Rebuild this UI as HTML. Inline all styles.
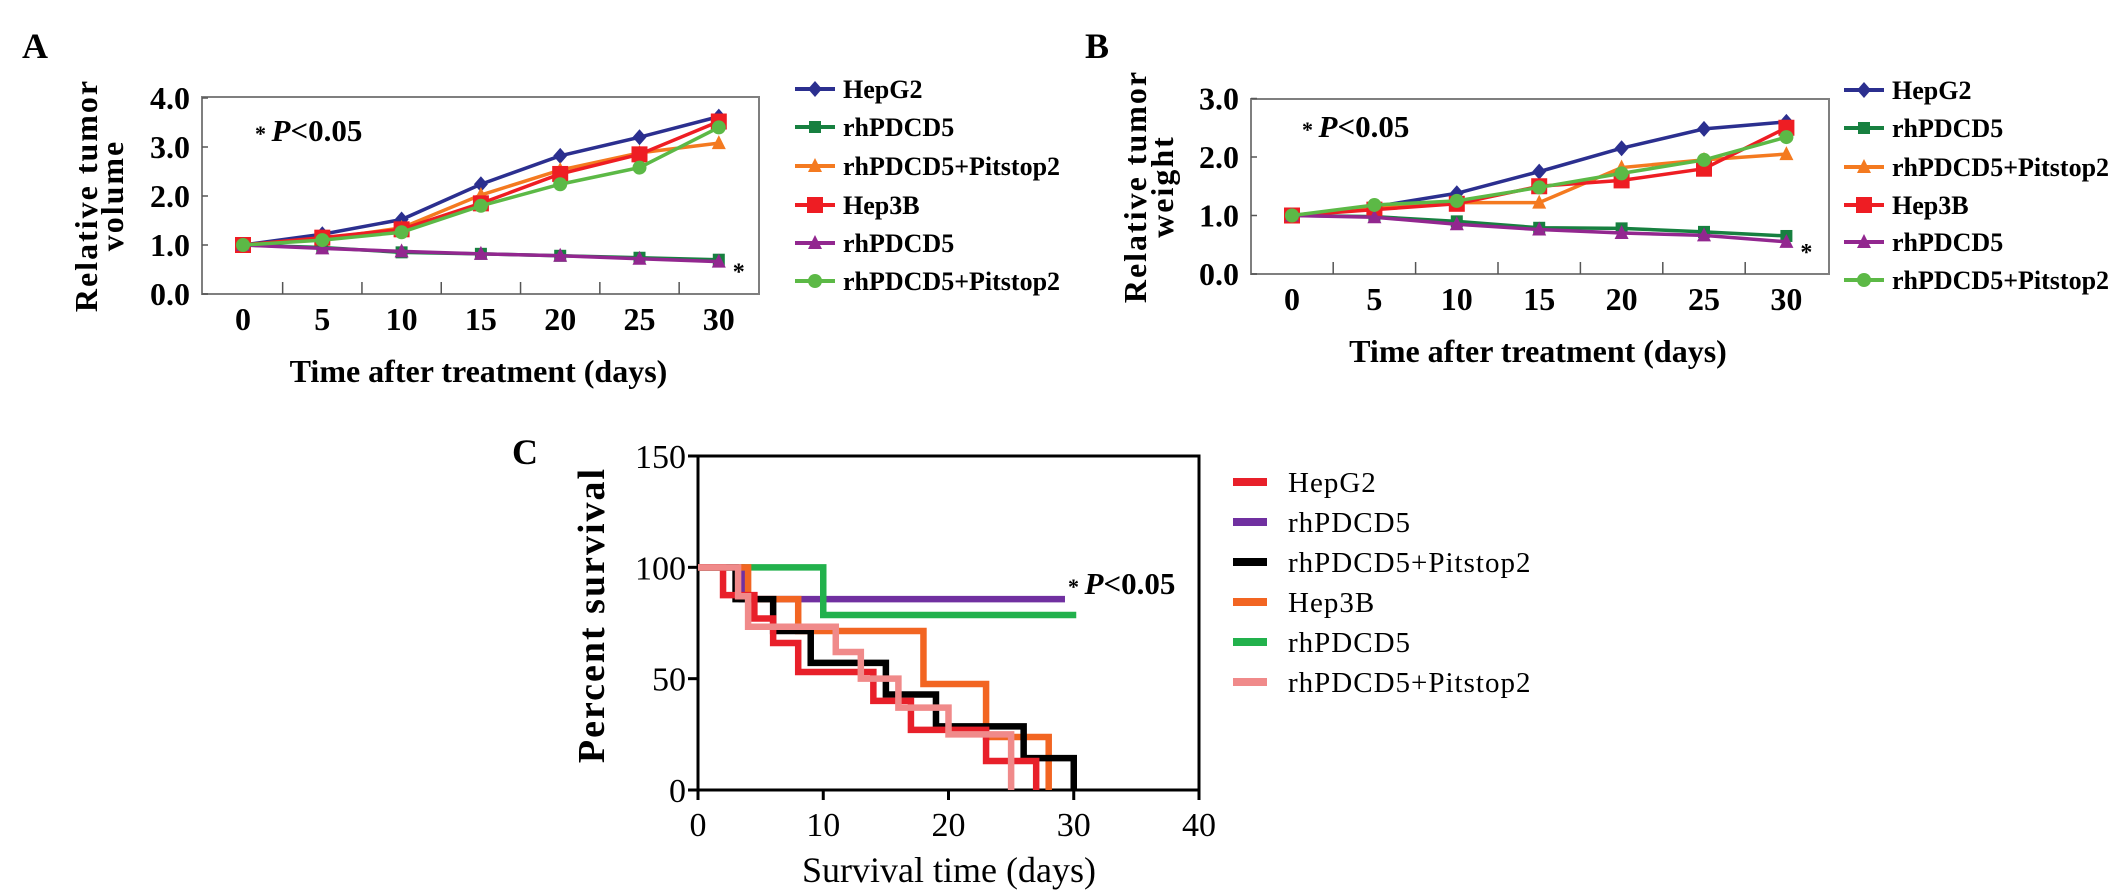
<!DOCTYPE html>
<html><head><meta charset="utf-8"><style>
html,body{margin:0;padding:0;background:#fff;}
svg{display:block;}
text{font-family:"Liberation Serif",serif;}
</style></head><body>
<svg id="fig" width="2126" height="893" viewBox="0 0 2126 893" xmlns="http://www.w3.org/2000/svg">
<rect width="2126" height="893" fill="#fff"/>
<g id="panelA"></g>
<g id="panelB"></g>
<g id="panelC"></g>
</svg>
<script>
// ---- Panel A / B data ----
const days = [0, 5, 10, 15, 20, 25, 30];
const seriesNames = ["HepG2", "rhPDCD5", "rhPDCD5+Pitstop2", "Hep3B", "rhPDCD5", "rhPDCD5+Pitstop2"];
const aHepG2 = [1.0, 1.22, 1.52, 2.24, 2.82, 3.2, 3.62];
const aRh1 = [1.0, 0.95, 0.85, 0.82, 0.78, 0.74, 0.7];
const aPit1 = [1.0, 1.12, 1.35, 2.02, 2.53, 2.88, 3.08];
const aHep3B = [1.0, 1.15, 1.32, 1.85, 2.45, 2.85, 3.52];
const aRh2 = [1.0, 0.93, 0.87, 0.82, 0.78, 0.72, 0.66];
const aPit2 = [1.0, 1.1, 1.26, 1.8, 2.24, 2.58, 3.4];
const bHepG2 = [1.0, 1.15, 1.38, 1.75, 2.15, 2.48, 2.6];
const bRh1 = [1.0, 0.98, 0.9, 0.79, 0.78, 0.72, 0.65];
const bPit1 = [1.0, 1.12, 1.22, 1.22, 1.82, 1.95, 2.05];
const bHep3B = [1.0, 1.1, 1.2, 1.5, 1.6, 1.8, 2.5];
const bRh2 = [1.0, 0.97, 0.85, 0.76, 0.7, 0.66, 0.55];
const bPit2 = [1.0, 1.18, 1.25, 1.48, 1.72, 1.95, 2.34];
const aTicks = ["0.0", "1.0", "2.0", "3.0", "4.0"];
const bTicks = ["0.0", "1.0", "2.0", "3.0"];
const dayLabels = ["0", "5", "10", "15", "20", "25", "30"];

// ---- Panel C data (Kaplan-Meier steps) ----
const cHepG2T = [0, 2, 4.5, 6, 8, 14, 17, 23, 27];
const cHepG2V = [100, 87.5, 77, 66, 53, 40, 27, 13, 0];
const cRh1T = [0, 3.5, 29.3];
const cRh1V = [100, 85.7, 85.7];
const cPit1T = [0, 3, 6, 9, 15, 19, 26, 30];
const cPit1V = [100, 85.7, 71.4, 57.1, 42.9, 28.6, 14.3, 0];
const cHep3BT = [0, 4, 8, 18, 23, 28];
const cHep3BV = [100, 85.7, 71.4, 47.6, 23.8, 0];
const cRh2T = [0, 10, 30.2];
const cRh2V = [100, 78.6, 78.6];
const cPit2T = [0, 3.2, 4, 11, 13, 16, 20, 25];
const cPit2V = [100, 87, 73.3, 62, 50, 37, 25, 0];
const cXTicks = ["0", "10", "20", "30", "40"];
const cYTicks = ["0", "50", "100", "150"];

const NS = "http://www.w3.org/2000/svg";
function mk(tag, attrs, parent, txt) {
  const e = document.createElementNS(NS, tag);
  for (const k in attrs) e.setAttribute(k, attrs[k]);
  if (txt !== undefined) e.textContent = txt;
  parent.appendChild(e);
  return e;
}

const colorsAB = ["#2b2f8f", "#178040", "#f47a20", "#ee1d23", "#92278f", "#5cb946"];
const markers = ["diamond", "square", "triangle", "bigsquare", "triangle", "circle"];

function marker(g, type, cx, cy, col) {
  let e;
  if (type === "diamond") e = mk("polygon", {points: `${cx},${cy-8} ${cx+7},${cy} ${cx},${cy+8} ${cx-7},${cy}`, fill: col}, g);
  else if (type === "square") e = mk("rect", {x: cx-6, y: cy-6, width: 12, height: 12, fill: col}, g);
  else if (type === "bigsquare") e = mk("rect", {x: cx-8, y: cy-8, width: 16, height: 16, fill: col}, g);
  else if (type === "triangle") e = mk("polygon", {points: `${cx},${cy-8} ${cx+7},${cy+6} ${cx-7},${cy+6}`, fill: col}, g);
  else e = mk("circle", {cx: cx, cy: cy, r: 7, fill: col}, g);
  
  
}

function lineChart(g, cfg) {
  const xS = d => cfg.x0 + (d / 5) * cfg.dx;
  const yS = v => cfg.yBase - v * cfg.unit;
  const box = mk("rect", {x: cfg.left, y: cfg.top, width: cfg.right - cfg.left, height: cfg.bottom - cfg.top, fill: "none", stroke: "#7f7f7f", "stroke-width": 2}, g);
  
  
  for (let i = 0; i < days.length - 1; i++) {
    const tx = (xS(days[i]) + xS(days[i+1])) / 2;
    const t = mk("line", {x1: tx, x2: tx, y1: cfg.bottom, y2: cfg.bottom - 12, stroke: "#555", "stroke-width": 1.5}, g);
    
    
  }
  cfg.yTicks.forEach((lab, i) => {
    const yy = yS(parseFloat(lab));
    const tk = mk("line", {x1: cfg.left, x2: cfg.left + 6, y1: yy, y2: yy, stroke: "#555", "stroke-width": 1.5}, g);
    
    
    const t = mk("text", {x: cfg.left - 12, y: yy + 11, "text-anchor": "end", "font-size": 32, "font-weight": "bold"}, g, lab);
    
    
  });
  dayLabels.forEach((lab, i) => {
    const t = mk("text", {x: xS(days[i]), y: cfg.bottom + 36, "text-anchor": "middle", "font-size": 32, "font-weight": "bold"}, g, lab);
    
    
  });
  cfg.series.forEach((vals, si) => {
    const pts = vals.map((v, i) => xS(days[i]) + "," + yS(v)).join(" ");
    const pl = mk("polyline", {points: pts, fill: "none", stroke: colorsAB[si], "stroke-width": 3.5}, g);
    
    
    vals.forEach((v, i) => marker(g, markers[si], xS(days[i]), yS(v), colorsAB[si]));
  });
  const st = mk("text", {x: xS(30) + 14, y: yS(cfg.series[4][6]) + 18, "font-size": 24, "font-weight": "bold"}, g, "*");
  
  
  const pv = mk("text", {x: cfg.pX, y: cfg.pY, "font-size": 31, "font-weight": "bold"}, g);
  
  
  mk("tspan", {"font-size": 22}, pv, "* ");
  mk("tspan", {"font-style": "italic"}, pv, "P");
  mk("tspan", {}, pv, "<0.05");
  const xt = mk("text", {x: (cfg.left + cfg.right) / 2 - 2, y: cfg.bottom + 88, "text-anchor": "middle", "font-size": 32, "font-weight": "bold"}, g, "Time after treatment (days)");
  
  
  const yc = (cfg.top + cfg.bottom) / 2;
  const yt1 = mk("text", {x: cfg.yt1, y: yc, "text-anchor": "middle", "font-size": 32, "font-weight": "bold", "letter-spacing": 2, transform: `rotate(-90 ${cfg.yt1} ${yc})`, "dominant-baseline": "central"}, g, "Relative tumor");
  
  
  const yt2 = mk("text", {x: cfg.yt2, y: yc, "text-anchor": "middle", "font-size": 32, "font-weight": "bold", "letter-spacing": 2, transform: `rotate(-90 ${cfg.yt2} ${yc})`, "dominant-baseline": "central"}, g, cfg.yWord);
  
  
  const pl = mk("text", {x: cfg.letterX, y: 58, "font-size": 36, "font-weight": "bold"}, g, cfg.letter);
  
  
  seriesNames.forEach((nm, i) => {
    const ly = cfg.legY[i];
    const lg = mk("g", {}, g);
    
    
    mk("line", {x1: cfg.legX, x2: cfg.legX + 40, y1: ly, y2: ly, stroke: colorsAB[i], "stroke-width": 4}, lg);
    marker(lg, markers[i], cfg.legX + 20, ly, colorsAB[i]);
    mk("text", {x: cfg.legX + 48, y: ly + 9, "font-size": 26, "font-weight": "bold"}, lg, nm);
  });
}

lineChart(document.getElementById("panelA"), {
  left: 202, right: 759, top: 97, bottom: 294, x0: 243, dx: 79.3, yBase: 294, unit: 49,
  yTicks: aTicks, series: [aHepG2, aRh1, aPit1, aHep3B, aRh2, aPit2],
  pX: 255, pY: 141, yt1: 86, yt2: 112, yWord: "volume", letter: "A", letterX: 22,
  legX: 795, legY: [89, 127, 166, 205, 243, 281]
});
lineChart(document.getElementById("panelB"), {
  left: 1251, right: 1829, top: 99, bottom: 274, x0: 1292, dx: 82.4, yBase: 274, unit: 58.5,
  yTicks: bTicks, series: [bHepG2, bRh1, bPit1, bHep3B, bRh2, bPit2],
  pX: 1302, pY: 137, yt1: 1135, yt2: 1162, yWord: "weight", letter: "B", letterX: 1085,
  legX: 1844, legY: [90, 128, 167, 205, 242, 280]
});

// ---- Panel C ----
(function () {
  const g = document.getElementById("panelC");
  const L = 698, R = 1199, T = 456, B = 790;
  const xS = d => L + d * (R - L) / 40;
  const yS = v => B - v * (B - T) / 150;
  const cColors = ["#e8202a", "#7030a0", "#000000", "#f26522", "#22b14c", "#f08a8a"];
  const cNames = ["HepG2", "rhPDCD5", "rhPDCD5+Pitstop2", "Hep3B", "rhPDCD5", "rhPDCD5+Pitstop2"];
  const cT = [cHepG2T, cRh1T, cPit1T, cHep3BT, cRh2T, cPit2T];
  const cV = [cHepG2V, cRh1V, cPit1V, cHep3BV, cRh2V, cPit2V];
  const box = mk("rect", {x: L, y: T, width: R - L, height: B - T, fill: "none", stroke: "#000", "stroke-width": 3}, g);
  
  
  cXTicks.forEach(lab => {
    const xx = xS(parseFloat(lab));
    const tk = mk("line", {x1: xx, x2: xx, y1: B, y2: B + 10, stroke: "#000", "stroke-width": 3}, g);
    
    
    const t = mk("text", {x: xx, y: B + 46, "text-anchor": "middle", "font-size": 34}, g, lab);
    
    
  });
  cYTicks.forEach(lab => {
    const yy = yS(parseFloat(lab));
    const tk = mk("line", {x1: L - 10, x2: L, y1: yy, y2: yy, stroke: "#000", "stroke-width": 3}, g);
    
    
    const t = mk("text", {x: L - 12, y: yy + 12, "text-anchor": "end", "font-size": 34}, g, lab);
    
    
  });
  const order = [1, 4, 3, 2, 0, 5];
  order.forEach(si => {
    const ts = cT[si], vs = cV[si];
    let d = `M${xS(ts[0])},${yS(vs[0])}`;
    for (let i = 1; i < ts.length; i++) d += ` H${xS(ts[i])} V${yS(vs[i])}`;
    const p = mk("path", {d: d, fill: "none", stroke: cColors[si], "stroke-width": 6.5}, g);
    
    
  });
  const pv = mk("text", {x: 1068, y: 594, "font-size": 31, "font-weight": "bold"}, g);
  
  
  mk("tspan", {"font-size": 22}, pv, "* ");
  mk("tspan", {"font-style": "italic"}, pv, "P");
  mk("tspan", {}, pv, "<0.05");
  const xt = mk("text", {x: 949, y: 882, "text-anchor": "middle", "font-size": 36}, g, "Survival time (days)");
  
  
  const yt = mk("text", {x: 592, y: 615, "text-anchor": "middle", "font-size": 38, "font-weight": "bold", "letter-spacing": 2, "dominant-baseline": "central", transform: "rotate(-90 592 615)"}, g, "Percent survival");
  
  
  const lt = mk("text", {x: 512, y: 464, "font-size": 36, "font-weight": "bold"}, g, "C");
  
  
  const legY = [482, 522, 562, 602, 642, 682];
  cNames.forEach((nm, i) => {
    const lg = mk("g", {}, g);
    
    
    mk("rect", {x: 1233, y: legY[i] - 4, width: 34, height: 8, fill: cColors[i]}, lg);
    mk("text", {x: 1288, y: legY[i] + 10, "font-size": 29, "letter-spacing": 1}, lg, nm);
  });
})();
</script>
</body></html>
